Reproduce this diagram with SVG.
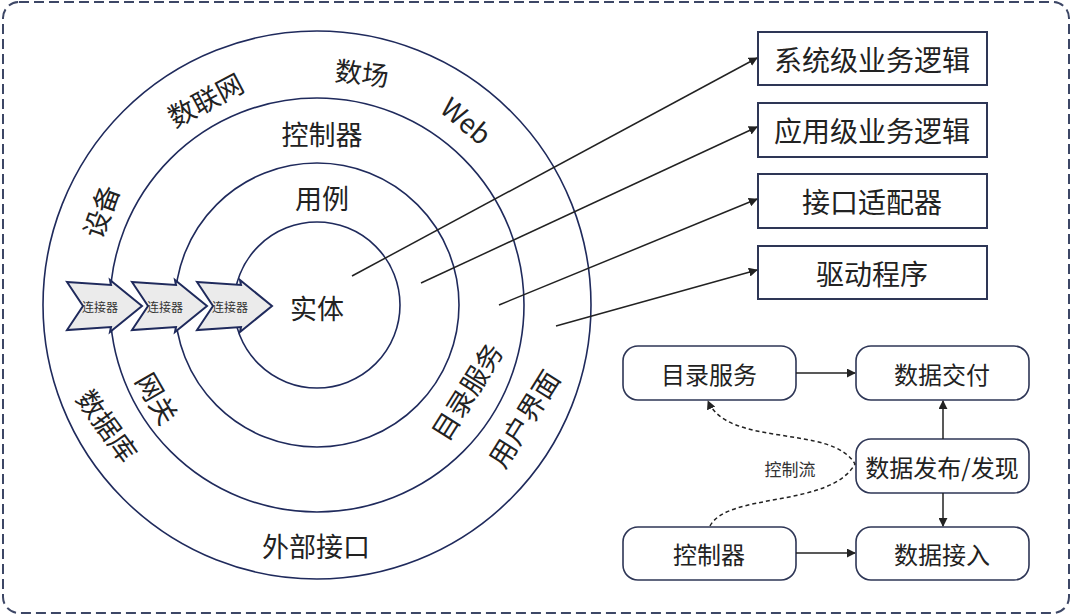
<svg xmlns="http://www.w3.org/2000/svg" width="1072" height="616" viewBox="0 0 1072 616">
<defs>
<style>
.frame{fill:none;stroke:#3d4766;stroke-width:2;stroke-dasharray:10 5}
.ring{fill:none;stroke:#1f2a5c;stroke-width:1.6}
.lbl{font-family:"Noto Sans CJK SC","Noto Sans",sans-serif;font-size:27px;fill:#222;text-anchor:middle;dominant-baseline:central}
.box{fill:#fff;stroke:#2e3656;stroke-width:2}
.rbox{fill:#fff;stroke:#2e3656;stroke-width:1.6}
.bt{font-family:"Noto Sans CJK SC","Noto Sans",sans-serif;font-size:28px;fill:#222;text-anchor:middle;dominant-baseline:central}
.st{font-family:"Noto Sans CJK SC","Noto Sans",sans-serif;font-size:24px;fill:#222;text-anchor:middle;dominant-baseline:central}
.ct{font-family:"Noto Sans CJK SC","Noto Sans",sans-serif;font-size:17px;fill:#333;text-anchor:middle;dominant-baseline:central}
.conn{fill:#ebebeb;stroke:#1f2a5c;stroke-width:2;stroke-linejoin:miter}
.cl{font-family:"Noto Sans CJK SC","Noto Sans",sans-serif;font-size:12px;fill:#333;text-anchor:middle;dominant-baseline:central}
.ln{fill:none;stroke:#222;stroke-width:1.5;marker-end:url(#ah)}
.dash{fill:none;stroke:#222;stroke-width:1.5;stroke-dasharray:4 3;marker-end:url(#ah)}
</style>
<marker id="ah" viewBox="0 0 10 10" refX="9" refY="5" markerWidth="9" markerHeight="9" markerUnits="userSpaceOnUse" orient="auto">
<path d="M0,0 L10,5 L0,10 z" fill="#222"/>
</marker>
<polygon id="chev" points="0,0 44,3 43,-2 75,24 43,50 44,45 0,48 16,24"/>
</defs>

<rect class="frame" x="3" y="2" width="1066" height="611" rx="16"/>

<g id="rings">
<circle class="ring" cx="317" cy="305" r="274"/>
<circle class="ring" cx="317" cy="305" r="207"/>
<circle class="ring" cx="317" cy="305" r="142"/>
<circle class="ring" cx="317" cy="305" r="83"/>
</g>

<g id="ring-labels">
<text class="lbl" x="317" y="307">实体</text>
<text class="lbl" x="322" y="197">用例</text>
<text class="lbl" x="322" y="133">控制器</text>
<text class="lbl" x="362" y="72" transform="rotate(6 362 72)">数场</text>
<text class="lbl" x="467" y="120" transform="rotate(40 467 120)">Web</text>
<text class="lbl" x="205" y="99" transform="rotate(-28 205 99)">数联网</text>
<text class="lbl" x="100" y="211" transform="rotate(-70 100 211)">设备</text>
<text class="lbl" x="108" y="425" transform="rotate(54 108 425)">数据库</text>
<text class="lbl" x="158" y="398" transform="rotate(60 158 398)">网关</text>
<text class="lbl" x="466" y="391" transform="rotate(-58 466 391)">目录服务</text>
<text class="lbl" x="523" y="418" transform="rotate(-58 523 418)">用户界面</text>
<text class="lbl" x="316" y="545">外部接口</text>
</g>

<g id="connector1">
<use href="#chev" class="conn" x="67" y="282"/>
<text class="cl" x="100" y="306">连接器</text>
</g>
<g id="connector2">
<use href="#chev" class="conn" x="132" y="282"/>
<text class="cl" x="165" y="306">连接器</text>
</g>
<g id="connector3">
<use href="#chev" class="conn" x="197" y="282"/>
<text class="cl" x="230" y="306">连接器</text>
</g>

<g id="box1"><rect class="box" x="758" y="32" width="229" height="53"/><text class="bt" x="872" y="59">系统级业务逻辑</text></g>
<g id="box2"><rect class="box" x="758" y="103" width="229" height="54"/><text class="bt" x="872" y="130">应用级业务逻辑</text></g>
<g id="box3"><rect class="box" x="758" y="174" width="229" height="54"/><text class="bt" x="872" y="201">接口适配器</text></g>
<g id="box4"><rect class="box" x="758" y="246" width="229" height="53"/><text class="bt" x="872" y="273">驱动程序</text></g>

<g id="n-directory"><rect class="rbox" x="623" y="346" width="173" height="54" rx="15"/><text class="st" x="709" y="373">目录服务</text></g>
<g id="n-delivery"><rect class="rbox" x="856" y="346" width="173" height="54" rx="15"/><text class="st" x="942" y="373">数据交付</text></g>
<g id="n-publish"><rect class="rbox" x="856" y="439" width="173" height="54" rx="15"/><text class="st" x="942" y="466">数据发布/发现</text></g>
<g id="n-controller"><rect class="rbox" x="623" y="527" width="173" height="53" rx="15"/><text class="st" x="709" y="553">控制器</text></g>
<g id="n-ingest"><rect class="rbox" x="856" y="527" width="173" height="53" rx="15"/><text class="st" x="942" y="553">数据接入</text></g>

<g id="connectors">
<line class="ln" x1="352" y1="276" x2="757" y2="58"/>
<line class="ln" x1="421" y1="283" x2="757" y2="127"/>
<line class="ln" x1="499" y1="305" x2="757" y2="199"/>
<line class="ln" x1="556" y1="326" x2="757" y2="270"/>
<line class="ln" x1="796" y1="373" x2="855" y2="373"/>
<line class="ln" x1="796" y1="553" x2="855" y2="553"/>
<line class="ln" x1="943" y1="439" x2="943" y2="401"/>
<line class="ln" x1="943" y1="493" x2="943" y2="526"/>
<path class="dash" d="M710,526 C728,492 830,508 855,464 C832,424 728,448 708,401"/>
<text class="ct" x="790" y="468">控制流</text>
</g>
</svg>
